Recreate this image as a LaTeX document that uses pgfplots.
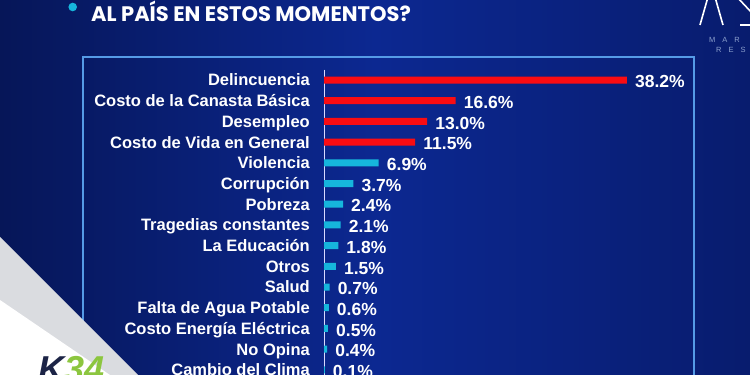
\documentclass[border=0pt]{standalone}
\usepackage{pgfplots}
\pgfplotsset{compat=1.18}
\usepackage{fontspec}
\setmainfont{Liberation Sans}
\newfontfamily\poppins{Poppins}
\definecolor{bgL}{RGB}{6,22,88}
\definecolor{bgM}{RGB}{12,40,145}
\definecolor{bgR}{RGB}{8,28,110}
\definecolor{frameblue}{RGB}{85,155,230}
\definecolor{barred}{RGB}{250,12,18}
\definecolor{barcyan}{RGB}{22,182,220}
\definecolor{logogray}{RGB}{140,160,205}
\definecolor{kgreen}{RGB}{140,198,63}
\definecolor{knavy}{RGB}{28,36,70}
\definecolor{bandgray}{RGB}{218,220,224}
\begin{document}
\begin{tikzpicture}[x=1pt,y=1pt]
\useasboundingbox (0,0) rectangle (750,375);
\clip (0,0) rectangle (750,375);
\shade[left color=bgL, right color=bgR, middle color=bgM] (0,0) rectangle (750,375);
% frame
\draw[frameblue, line width=1.8pt] (83,-10) rectangle (694,318);
% title
\fill[barcyan] (72.7,368) circle (4.3);
\node[anchor=base west, inner sep=0pt, text=white, font=\poppins\bfseries\fontsize{21}{23}\selectfont] at (91,353) {AL PAÍS EN ESTOS MOMENTOS?};
% right logo
\draw[white, line width=1.6pt] (700,350) -- (708,378);
\draw[white, line width=1.6pt] (723,350) -- (715,378);
\draw[white, line width=1.6pt] (740,350) -- (752,350);
\draw[white, line width=1.6pt] (737,378) -- (752,362);
\node[anchor=base west, inner sep=0pt, text=logogray, font=\fontsize{7.5}{8}\selectfont] at (709,332) {M\hspace{7pt}A\hspace{7pt}R};
\node[anchor=base west, inner sep=0pt, text=logogray, font=\fontsize{7.5}{8}\selectfont] at (716,322) {R\hspace{7pt}E\hspace{7pt}S};
% bottom-left band
\fill[bandgray] (0,138) -- (0,-5) -- (138,-5) -- (138,0) -- cycle;
\fill[white] (0,75) -- (0,-5) -- (110,-5) -- (110,0) -- cycle;
\begin{axis}[
  at={(324pt,305.35pt)}, anchor=north west,
  scale only axis, width=317.2pt, height=310.5pt,
  xmin=0, xmax=40, ymin=-0.5, ymax=14.5, y dir=reverse,
  xbar, bar width=7pt,
  hide x axis,
  axis y line*=left,
  y axis line style={white!85!blue, line width=0.8pt},
  major tick length=0pt,
  /pgf/number format/assume math mode=true,
  ytick={0,...,14},
  yticklabels={Delincuencia,Costo de la Canasta Básica,Desempleo,Costo de Vida en General,Violencia,Corrupción,Pobreza,Tragedias constantes,La Educación,Otros,Salud,Falta de Agua Potable,Costo Energía Eléctrica,No Opina,Cambio del Clima},
  yticklabel style={font=\bfseries\fontsize{16.5}{18}\selectfont, text=white, anchor=east, inner sep=0pt, xshift=-14pt, text height=11.8pt, text depth=0pt},
  clip=false,
  nodes near coords={\pgfmathprintnumber[fixed, fixed zerofill, precision=1, assume math mode=true]{\pgfplotspointmeta}\%},
  nodes near coords style={font=\bfseries\fontsize{17.5}{19}\selectfont, text=white, anchor=west, inner sep=0pt, xshift=8pt, yshift=-1.5pt, text height=12.5pt, text depth=0pt},
]
\addplot[draw=none, fill=barred, bar shift=0pt] coordinates {(38.2,0) (16.6,1) (13.0,2) (11.5,3)};
\addplot[draw=none, fill=barcyan, bar shift=0pt] coordinates {(6.9,4) (3.7,5) (2.4,6) (2.1,7) (1.8,8) (1.5,9) (0.7,10) (0.6,11) (0.5,12) (0.4,13) (0.1,14)};
\end{axis}
\node[anchor=base west, inner sep=0pt, font=\bfseries\itshape\fontsize{36}{38}\selectfont] at (38,-6) {\textcolor{knavy}{K}\textcolor{kgreen}{34}};
\end{tikzpicture}
\end{document}
